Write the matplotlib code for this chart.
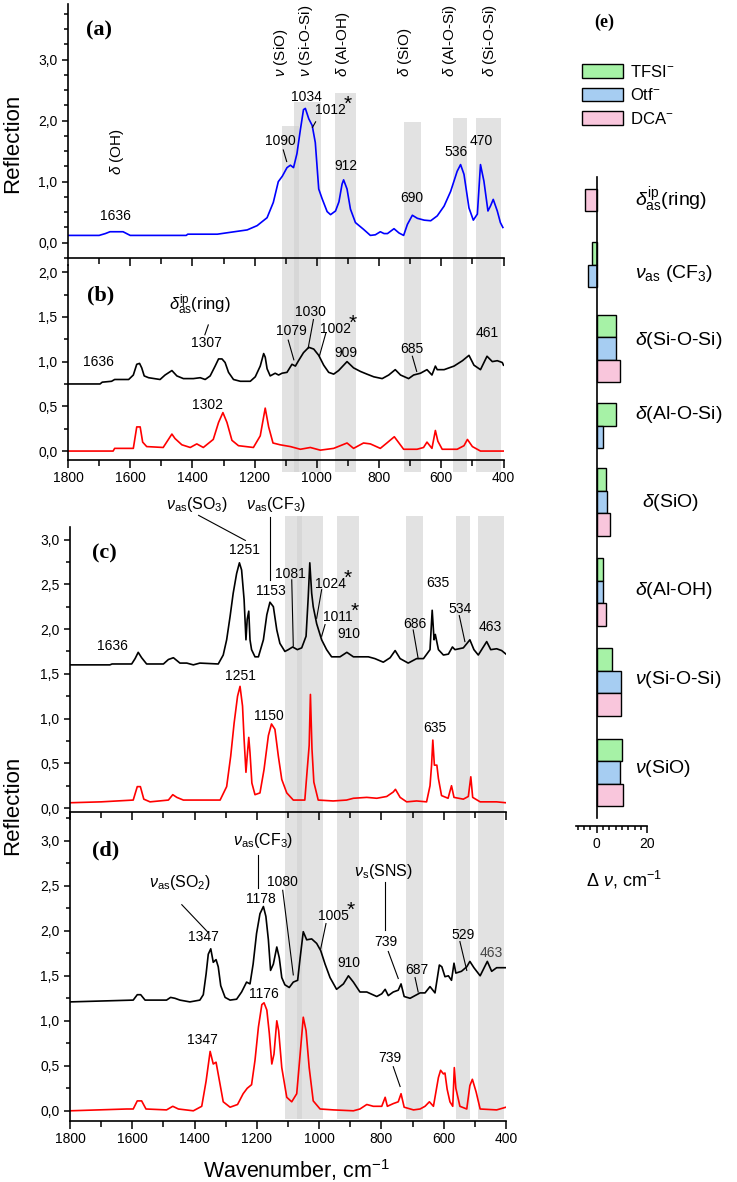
import numpy as np
import matplotlib
matplotlib.use("Agg")
import matplotlib.pyplot as plt
import matplotlib.transforms as mtransforms
from matplotlib.patches import Rectangle, Patch
from matplotlib.ticker import MultipleLocator, FuncFormatter, FixedLocator

plt.rcParams['font.family'] = ['Liberation Sans', 'DejaVu Sans']
plt.rcParams['mathtext.fontset'] = 'custom'
plt.rcParams['mathtext.rm'] = 'Liberation Sans'
plt.rcParams['mathtext.it'] = 'Liberation Sans:italic'
plt.rcParams['mathtext.bf'] = 'Liberation Sans:bold'

W, H = 737, 1182

# spectra: (wavenumber, reflection)
spec_a = [(1800, 0.12), (1700, 0.12), (1680, 0.15), (1665, 0.18), (1623, 0.18), (1600, 0.12),
          (1420, 0.12), (1415, 0.14), (1320, 0.14), (1279, 0.17), (1224, 0.21), (1192, 0.28),
          (1160, 0.41), (1140, 0.66), (1124, 1.0), (1111, 1.09), (1096, 1.23), (1085, 1.27),
          (1075, 1.23), (1064, 1.46), (1053, 1.85), (1043, 2.18), (1037, 2.20), (1026, 2.03),
          (1015, 1.92), (1005, 1.64), (994, 0.88), (983, 0.72), (967, 0.51), (956, 0.46),
          (940, 0.52), (929, 0.67), (919, 0.96), (914, 1.03), (903, 0.88), (892, 0.55),
          (876, 0.33), (850, 0.22), (828, 0.12), (812, 0.13), (796, 0.18), (784, 0.15),
          (773, 0.15), (752, 0.23), (736, 0.16), (721, 0.12), (709, 0.30), (693, 0.45),
          (677, 0.40), (655, 0.37), (634, 0.36), (613, 0.44), (591, 0.60), (570, 0.84),
          (549, 1.17), (538, 1.28), (527, 1.12), (511, 0.57), (497, 0.37), (484, 0.47),
          (474, 1.28), (463, 1.01), (450, 0.52), (442, 0.60), (433, 0.71), (420, 0.52),
          (410, 0.33), (402, 0.25)]

spec_b_k = [(1800, 0.75), (1697, 0.75), (1690, 0.77), (1660, 0.78), (1650, 0.80), (1605, 0.80),
            (1590, 0.85), (1579, 0.97), (1570, 0.98), (1563, 0.93), (1555, 0.84), (1541, 0.82),
            (1504, 0.80), (1488, 0.85), (1466, 0.90), (1450, 0.84), (1429, 0.81), (1397, 0.81),
            (1375, 0.82), (1359, 0.80), (1343, 0.84), (1327, 0.95), (1316, 1.03), (1305, 1.03),
            (1295, 0.99), (1284, 0.88), (1268, 0.80), (1246, 0.78), (1214, 0.78), (1198, 0.83),
            (1182, 0.95), (1171, 1.09), (1166, 1.05), (1160, 0.92), (1150, 0.84), (1134, 0.87),
            (1123, 0.85), (1112, 0.87), (1096, 0.88), (1080, 0.97), (1069, 0.95), (1059, 1.01),
            (1043, 1.10), (1026, 1.16), (1010, 1.14), (994, 1.07), (978, 0.96), (962, 0.88),
            (946, 0.86), (930, 0.90), (903, 1.00), (882, 0.93), (860, 0.89), (839, 0.86),
            (817, 0.83), (790, 0.81), (769, 0.85), (748, 0.91), (731, 0.85), (705, 0.81),
            (689, 0.85), (667, 0.87), (646, 0.91), (630, 0.85), (619, 0.95), (613, 0.91),
            (591, 0.91), (559, 0.95), (532, 1.01), (511, 1.07), (495, 0.96), (474, 0.91),
            (453, 1.06), (436, 1.00), (420, 1.01), (404, 0.99), (400, 0.96)]

spec_b_r = [(1800, 0.0), (1655, 0.0), (1650, 0.03), (1590, 0.03), (1579, 0.27), (1568, 0.27),
            (1560, 0.10), (1547, 0.05), (1494, 0.04), (1466, 0.19), (1456, 0.14), (1434, 0.07),
            (1407, 0.04), (1386, 0.08), (1365, 0.04), (1333, 0.13), (1316, 0.32), (1302, 0.43),
            (1289, 0.32), (1273, 0.12), (1252, 0.06), (1204, 0.04), (1182, 0.17), (1166, 0.48),
            (1155, 0.27), (1141, 0.09), (1118, 0.07), (1085, 0.05), (1053, 0.02), (1021, 0.04),
            (989, 0.01), (946, 0.03), (903, 0.09), (882, 0.03), (850, 0.09), (828, 0.08),
            (796, 0.03), (775, 0.09), (751, 0.16), (721, 0.02), (678, 0.02), (657, 0.04),
            (646, 0.10), (630, 0.03), (619, 0.23), (611, 0.11), (597, 0.02), (549, 0.02),
            (527, 0.06), (516, 0.13), (500, 0.05), (474, 0.0), (400, 0.0)]

spec_c_k = [(1800, 1.60), (1672, 1.60), (1665, 1.61), (1602, 1.61), (1591, 1.67), (1581, 1.74),
            (1570, 1.68), (1554, 1.61), (1500, 1.61), (1484, 1.66), (1468, 1.68), (1447, 1.62),
            (1425, 1.62), (1404, 1.60), (1383, 1.62), (1324, 1.61), (1308, 1.71), (1297, 1.88),
            (1286, 2.14), (1276, 2.40), (1265, 2.62), (1256, 2.74), (1249, 2.66), (1241, 2.33),
            (1235, 1.88), (1231, 2.11), (1226, 2.20), (1222, 1.88), (1217, 1.77), (1206, 1.69),
            (1195, 1.69), (1179, 1.88), (1168, 2.16), (1158, 2.30), (1147, 2.25), (1136, 1.99),
            (1126, 1.84), (1110, 1.75), (1099, 1.77), (1085, 1.80), (1070, 1.77), (1056, 1.79),
            (1042, 1.92), (1035, 2.36), (1030, 2.74), (1024, 2.40), (1019, 2.25), (1008, 2.06),
            (992, 1.88), (976, 1.77), (960, 1.69), (933, 1.69), (911, 1.74), (890, 1.69),
            (842, 1.69), (821, 1.67), (794, 1.63), (772, 1.68), (756, 1.76), (740, 1.67),
            (714, 1.62), (687, 1.67), (665, 1.67), (644, 1.77), (637, 2.21), (631, 1.88),
            (627, 1.94), (617, 1.77), (601, 1.71), (585, 1.72), (572, 1.80), (564, 1.77),
            (537, 1.79), (516, 1.88), (503, 1.77), (489, 1.71), (462, 1.86), (449, 1.77),
            (430, 1.78), (414, 1.76), (400, 1.72)]

spec_c_r = [(1800, 0.06), (1700, 0.07), (1597, 0.09), (1584, 0.24), (1574, 0.24), (1563, 0.10),
            (1543, 0.07), (1484, 0.09), (1470, 0.15), (1457, 0.12), (1436, 0.09), (1318, 0.09),
            (1297, 0.24), (1284, 0.58), (1273, 0.95), (1262, 1.25), (1254, 1.36), (1246, 1.14),
            (1241, 0.77), (1235, 0.40), (1231, 0.58), (1226, 0.79), (1222, 0.62), (1216, 0.28),
            (1206, 0.15), (1190, 0.17), (1177, 0.43), (1163, 0.81), (1153, 0.94), (1142, 0.88),
            (1131, 0.58), (1120, 0.32), (1104, 0.17), (1083, 0.09), (1046, 0.09), (1039, 0.40),
            (1032, 0.70), (1028, 1.27), (1023, 0.66), (1017, 0.29), (1003, 0.09), (955, 0.08),
            (912, 0.09), (890, 0.11), (847, 0.12), (815, 0.11), (783, 0.13), (762, 0.18),
            (755, 0.21), (740, 0.12), (719, 0.07), (687, 0.08), (655, 0.07), (644, 0.25),
            (639, 0.48), (635, 0.76), (630, 0.48), (622, 0.48), (617, 0.33), (607, 0.14),
            (586, 0.11), (575, 0.25), (567, 0.12), (537, 0.10), (521, 0.13), (513, 0.35),
            (507, 0.12), (483, 0.07), (430, 0.07), (400, 0.06)]

spec_d_k = [(1800, 1.21), (1597, 1.23), (1584, 1.29), (1573, 1.29), (1559, 1.23), (1490, 1.23),
            (1477, 1.26), (1463, 1.25), (1447, 1.23), (1415, 1.21), (1383, 1.23), (1372, 1.29),
            (1363, 1.52), (1356, 1.74), (1348, 1.80), (1340, 1.65), (1331, 1.68), (1324, 1.60),
            (1316, 1.39), (1302, 1.26), (1286, 1.23), (1265, 1.24), (1249, 1.32), (1233, 1.43),
            (1222, 1.41), (1212, 1.63), (1201, 1.97), (1190, 2.19), (1179, 2.27), (1171, 2.16),
            (1163, 1.90), (1156, 1.56), (1147, 1.63), (1136, 1.82), (1128, 1.70), (1120, 1.48),
            (1110, 1.40), (1096, 1.37), (1083, 1.43), (1069, 1.45), (1061, 1.70), (1051, 1.99),
            (1040, 1.90), (1024, 1.91), (1008, 1.86), (995, 1.78), (981, 1.63), (965, 1.48),
            (944, 1.35), (922, 1.41), (906, 1.50), (890, 1.43), (869, 1.32), (847, 1.32),
            (815, 1.27), (799, 1.30), (788, 1.35), (778, 1.28), (762, 1.32), (746, 1.34),
            (737, 1.41), (727, 1.27), (708, 1.25), (676, 1.31), (660, 1.31), (644, 1.38),
            (628, 1.31), (614, 1.62), (606, 1.60), (596, 1.49), (585, 1.50), (575, 1.45),
            (567, 1.64), (561, 1.53), (543, 1.55), (526, 1.60), (516, 1.66), (503, 1.59),
            (483, 1.50), (460, 1.66), (446, 1.55), (430, 1.59), (400, 1.59)]

spec_d_r = [(1800, 0.0), (1618, 0.02), (1597, 0.02), (1584, 0.11), (1570, 0.11), (1556, 0.02),
            (1490, 0.01), (1470, 0.05), (1452, 0.02), (1404, 0.0), (1377, 0.05), (1363, 0.33),
            (1350, 0.66), (1340, 0.52), (1331, 0.54), (1320, 0.33), (1308, 0.10), (1286, 0.04),
            (1262, 0.07), (1244, 0.19), (1231, 0.25), (1217, 0.29), (1206, 0.56), (1195, 0.93),
            (1184, 1.18), (1177, 1.20), (1168, 1.12), (1160, 0.86), (1152, 0.52), (1145, 0.63),
            (1136, 1.00), (1130, 0.89), (1120, 0.48), (1104, 0.15), (1088, 0.10), (1072, 0.19),
            (1061, 0.63), (1051, 1.04), (1042, 0.89), (1032, 0.48), (1019, 0.11), (997, 0.02),
            (954, 0.01), (890, 0.0), (869, 0.02), (847, 0.07), (826, 0.05), (799, 0.05),
            (788, 0.15), (781, 0.05), (762, 0.08), (746, 0.10), (737, 0.19), (727, 0.04),
            (697, 0.01), (676, 0.02), (660, 0.05), (646, 0.10), (633, 0.05), (617, 0.37),
            (610, 0.45), (601, 0.41), (596, 0.42), (589, 0.24), (580, 0.10), (571, 0.05),
            (566, 0.48), (561, 0.25), (548, 0.05), (526, 0.02), (516, 0.28), (508, 0.35),
            (496, 0.21), (483, 0.02), (430, 0.01), (400, 0.04)]

# grey bands (high, low wavenumber); upper set also has top in panel (a) units
bands_upper = [(1112, 1058, 1.91), (1075, 987, 2.30), (943, 873, 2.46),
               (721, 666, 1.98), (561, 516, 2.04), (490, 407, 2.04)]
bands_lower = [(1110, 1056), (1072, 987), (942, 872), (721, 665), (560, 515), (489, 406)]

# panel (e): shifts, cm-1
e_modes = [r"$\delta_{\mathrm{as}}^{\mathrm{ip}}$(ring)", r"$\nu_{\mathrm{as}}$ (CF$_3$)",
           r"$\delta$(Si-O-Si)", r"$\delta$(Al-O-Si)", r"$\delta$(SiO)", r"$\delta$(Al-OH)",
           r"$\nu$(Si-O-Si)", r"$\nu$(SiO)"]
e_tfsi = [np.nan, -2.0, 7.6, 7.5, 3.6, 2.4, 5.9, 9.9]
e_otf = [np.nan, -3.3, 7.5, 2.4, 4.2, 2.4, 9.5, 9.2]
e_dca = [-4.6, np.nan, 9.2, np.nan, 5.3, 3.6, 9.5, 10.5]
e_names = [r"TFSI$^{-}$", r"Otf$^{-}$", r"DCA$^{-}$"]
e_colors = ['#a6f2a6', '#a6cdf2', '#f9c6dc']

fig = plt.figure(figsize=(W / 100, H / 100), dpi=100)
PX = mtransforms.Affine2D().scale(1, -1).translate(0, H)


def px_axes(l, r, t, b):
    return fig.add_axes([l / W, 1 - b / H, (r - l) / W, (b - t) / H])


ax_a = px_axes(68, 503.5, 4, 258)
ax_b = px_axes(68, 503.5, 265, 460)
ax_c = px_axes(70, 506, 527, 811.7)
ax_d = px_axes(70, 506, 812, 1120.7)

comma = FuncFormatter(lambda v, p: f"{v:.1f}".replace('.', ','))
for ax, ylim, major in ((ax_a, (-0.25, 3.91), 1.0), (ax_b, (-0.10, 2.08), 0.5),
                        (ax_c, (-0.04, 3.14), 0.5), (ax_d, (-0.11, 3.32), 0.5)):
    ax.set_xlim(1800, 400)
    ax.set_ylim(*ylim)
    ax.patch.set_visible(False)
    ax.spines['top'].set_visible(False)
    ax.spines['right'].set_visible(False)
    ax.spines['left'].set_linewidth(1.2)
    ax.spines['bottom'].set_linewidth(1.2)
    ax.xaxis.set_major_locator(MultipleLocator(200))
    ax.xaxis.set_minor_locator(MultipleLocator(100))
    ax.yaxis.set_major_locator(MultipleLocator(major))
    ax.yaxis.set_minor_locator(MultipleLocator(0.25))
    ax.yaxis.set_major_formatter(comma)
    ax.tick_params(which='both', direction='out', width=1.1, labelsize=10)
    ax.tick_params(axis='y', which='major', length=4.5, pad=3)
    ax.tick_params(axis='y', which='minor', length=3)
    ax.tick_params(axis='x', which='major', length=6, pad=2)
    ax.tick_params(axis='x', which='minor', length=4)
ax_a.tick_params(axis='x', labelbottom=False)
ax_c.tick_params(axis='x', labelbottom=False)

# grey bands across the panels
fig.canvas.draw()
tr_up = mtransforms.blended_transform_factory(ax_a.transData, PX)
for hi, lo, top in bands_upper:
    top_px = H - ax_a.transData.transform((1000, top))[1]
    fig.add_artist(Rectangle((hi, top_px), lo - hi, 471.7 - top_px, transform=tr_up,
                             facecolor='#d0d0d0', alpha=0.6, edgecolor='none', zorder=-1))
tr_lo = mtransforms.blended_transform_factory(ax_c.transData, PX)
for hi, lo in bands_lower:
    fig.add_artist(Rectangle((hi, 516), lo - hi, 1119 - 516, transform=tr_lo,
                             facecolor='#d0d0d0', alpha=0.6, edgecolor='none', zorder=-1))

for ax, spec, col in ((ax_a, spec_a, '#0000ff'), (ax_b, spec_b_k, 'k'), (ax_b, spec_b_r, '#ff0000'),
                      (ax_c, spec_c_k, 'k'), (ax_c, spec_c_r, '#ff0000'),
                      (ax_d, spec_d_k, 'k'), (ax_d, spec_d_r, '#ff0000')):
    w, r = zip(*spec)
    ax.plot(w, r, color=col, lw=1.2)


def note(ax, x, y, s, ha='center', size=10, color='k'):
    return ax.text(x, y, s, ha=ha, va='center', fontsize=size, color=color)


def star_note(ax, x, y, s):
    t = note(ax, x, y, s, ha='left')
    ax.annotate('*', xy=(1.0, 1.0), xycoords=t, xytext=(-1.5, -1), textcoords='offset points',
                ha='left', va='center', fontsize=15)


def lead(ax, x1, y1, x2, y2):
    ax.plot([x1, x2], [y1, y2], color='k', lw=0.8, clip_on=False)


# (a)
for x, s in ((1115, r"$\nu$ (SiO)"), (1035, r"$\nu$ (Si-O-Si)"), (916, r"$\delta$ (Al-OH)"),
             (717, r"$\delta$ (SiO)"), (572, r"$\delta$ (Al-O-Si)"), (444, r"$\delta$ (Si-O-Si)")):
    ax_a.text(x, 2.72, s, rotation=90, ha='center', va='bottom', fontsize=11)
ax_a.text(1641, 1.11, r"$\delta$ (OH)", rotation=90, ha='center', va='bottom', fontsize=11)
note(ax_a, 1649, 0.44, "1636")
note(ax_a, 1118, 1.67, "1090")
lead(ax_a, 1108, 1.52, 1097, 1.33)
note(ax_a, 1033, 2.39, "1034")
star_note(ax_a, 1006, 2.18, "1012")
lead(ax_a, 1004, 1.98, 1014, 1.89)
note(ax_a, 908, 1.26, "912")
note(ax_a, 695, 0.74, "690")
note(ax_a, 552, 1.48, "536")
note(ax_a, 472, 1.66, "470")

# (b)
note(ax_b, 1702, 1.0, "1636")
note(ax_b, 1376, 1.64, r"$\delta_{\mathrm{as}}^{\mathrm{ip}}$(ring)", size=12)
lead(ax_b, 1360, 1.30, 1349, 1.41)
note(ax_b, 1354, 1.21, "1307")
note(ax_b, 1352, 0.51, "1302")
note(ax_b, 1083, 1.34, "1079")
lead(ax_b, 1092, 1.24, 1074, 1.02)
note(ax_b, 1020, 1.56, "1030")
lead(ax_b, 1011, 1.47, 1028, 1.15)
star_note(ax_b, 990, 1.37, "1002")
lead(ax_b, 971, 1.32, 992, 1.06)
note(ax_b, 906, 1.10, "909")
note(ax_b, 694, 1.14, "685")
lead(ax_b, 693, 1.06, 679, 0.89)
note(ax_b, 451, 1.32, "461")

# (c)
note(ax_c, 1392, 3.39, r"$\nu_{\mathrm{as}}$(SO$_3$)", size=11.5)
lead(ax_c, 1387, 3.27, 1237, 2.99)
note(ax_c, 1138, 3.39, r"$\nu_{\mathrm{as}}$(CF$_3$)", size=11.5)
lead(ax_c, 1158, 3.25, 1158, 2.55)
note(ax_c, 1241, 2.88, "1251")
note(ax_c, 1155, 2.42, "1153")
note(ax_c, 1091, 2.62, "1081")
lead(ax_c, 1088, 2.55, 1083, 1.81)
star_note(ax_c, 1013, 2.50, "1024")
lead(ax_c, 992, 2.44, 1008, 2.12)
star_note(ax_c, 987, 2.14, "1011")
lead(ax_c, 981, 2.05, 992, 1.92)
note(ax_c, 906, 1.95, "910")
note(ax_c, 694, 2.06, "686")
lead(ax_c, 698, 1.99, 682, 1.67)
note(ax_c, 618, 2.52, "635")
note(ax_c, 547, 2.22, "534")
lead(ax_c, 550, 2.15, 532, 1.86)
note(ax_c, 451, 2.02, "463")
note(ax_c, 1664, 1.81, "1636")
note(ax_c, 1254, 1.48, "1251")
note(ax_c, 1161, 1.03, "1150")
note(ax_c, 627, 0.89, "635")

# (d)
note(ax_d, 1447, 2.54, r"$\nu_{\mathrm{as}}$(SO$_2$)", size=11.5)
lead(ax_d, 1441, 2.29, 1356, 1.98)
note(ax_d, 1370, 1.93, "1347")
note(ax_d, 1179, 3.0, r"$\nu_{\mathrm{as}}$(CF$_3$)", size=11.5)
lead(ax_d, 1195, 2.84, 1195, 2.47)
note(ax_d, 1188, 2.35, "1178")
note(ax_d, 1118, 2.54, "1080")
lead(ax_d, 1117, 2.45, 1083, 1.51)
star_note(ax_d, 1003, 2.17, "1005")
lead(ax_d, 978, 2.08, 995, 1.80)
note(ax_d, 906, 1.64, "910")
note(ax_d, 794, 2.66, r"$\nu_{\mathrm{s}}$(SNS)", size=11.5)
lead(ax_d, 788, 2.54, 788, 2.01)
note(ax_d, 786, 1.87, "739")
lead(ax_d, 778, 1.77, 746, 1.47)
note(ax_d, 687, 1.56, "687")
lead(ax_d, 692, 1.48, 682, 1.32)
note(ax_d, 539, 1.95, "529")
lead(ax_d, 548, 1.88, 526, 1.56)
note(ax_d, 446, 1.75, "463", color='#444444')
note(ax_d, 1179, 1.30, "1176")
note(ax_d, 1375, 0.79, "1347")
note(ax_d, 772, 0.59, "739")
lead(ax_d, 762, 0.49, 740, 0.27)

# panel letters and axis titles
for s, x, y in (("(a)", 99, 30), ("(b)", 101, 295), ("(c)", 104, 553), ("(d)", 106, 850)):
    fig.text(x / W, 1 - y / H, s, ha='center', va='center', fontsize=16,
             family='Liberation Serif', weight='bold')
fig.text(604 / W, 1 - 22 / H, "(e)", ha='center', va='center', fontsize=13,
         family='Liberation Serif', weight='bold')
for y in (143, 805):
    fig.text(13 / W, 1 - y / H, "Reflection", rotation=90, ha='center', va='center', fontsize=16)
fig.text(297 / W, 1 - 1170 / H, r"Wavenumber, cm$^{-1}$", ha='center', va='center', fontsize=15.5)

# (e) bar panel
ax_e = px_axes(576, 647.3, 170, 826)
ax_e.set_xlim(-8.2, 20)
ax_e.set_ylim(0, 29.16)
ax_e.patch.set_visible(False)
e_pos = [28.82, 24.44, 21.23, 17.29, 14.4, 10.41, 6.4, 2.37]
for vals, off, col in ((e_tfsi, 1, e_colors[0]), (e_otf, 0, e_colors[1]), (e_dca, -1, e_colors[2])):
    for p, v in zip(e_pos, vals):
        if np.isnan(v):
            continue
        ax_e.barh(p + off, v, height=1.0, color=col, edgecolor='k', lw=1.0)
ax_e.spines['top'].set_visible(False)
ax_e.spines['right'].set_visible(False)
ax_e.spines['left'].set_position(('data', 0))
ax_e.spines['left'].set_bounds(0.36, 28.86)
ax_e.spines['left'].set_linewidth(1.2)
ax_e.spines['bottom'].set_linewidth(1.2)
ax_e.tick_params(axis='y', left=False, labelleft=False)
ax_e.xaxis.set_major_locator(FixedLocator([0, 20]))
ax_e.xaxis.set_minor_locator(MultipleLocator(2.5))
ax_e.tick_params(axis='x', which='major', direction='out', length=5, width=1.1, labelsize=10, pad=3)
ax_e.tick_params(axis='x', which='minor', direction='out', length=3, width=1.1)
e_label_y = [27.82, 24.58, 21.6, 18.27, 14.36, 10.49, 6.49, 2.56]
e_label_x = [15.1, 15.1, 15.1, 15.1, 17.9, 15.1, 15.1, 15.1]
for s, x, y in zip(e_modes, e_label_x, e_label_y):
    ax_e.text(x, y, s, ha='left', va='center', fontsize=14, clip_on=False)
fig.text(624 / W, 1 - 880 / H, r"$\Delta\ \nu$, cm$^{-1}$", ha='center', va='center', fontsize=13)
handles = [Patch(facecolor=c, edgecolor='k', lw=1.0) for c in e_colors]
fig.legend(handles, e_names, loc='upper left', bbox_to_anchor=(575 / W, 1 - 57 / H),
           frameon=False, fontsize=12, handlelength=2.5, handleheight=0.85,
           handletextpad=0.4, labelspacing=0.45, borderaxespad=0)

fig.savefig("out.png", dpi=100)
